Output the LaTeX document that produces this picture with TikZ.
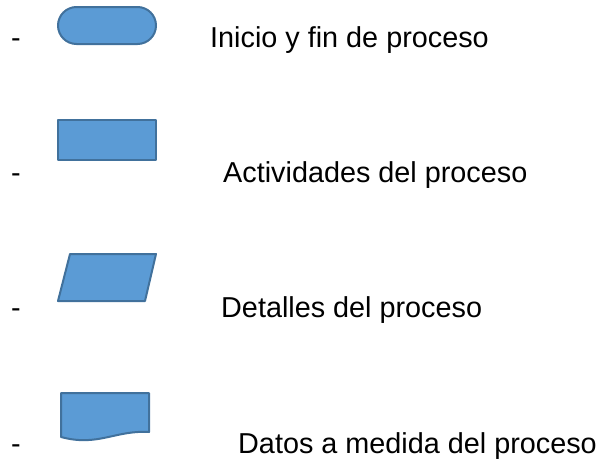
\documentclass[tikz,border=0pt]{standalone}
\usepackage{fontspec}
\setmainfont{Liberation Sans}
\definecolor{shapefill}{HTML}{5B9BD5}
\definecolor{shapeline}{HTML}{41719C}
\begin{document}
\begin{tikzpicture}[x=1pt,y=-1pt,
  symb/.style={fill=shapefill,draw=shapeline,line width=2pt,line join=round},
  lbl/.style={anchor=base west,inner sep=0pt,font=\fontsize{28.8}{34}\selectfont},
  dashlbl/.style={anchor=base west,inner sep=0pt,font=\fontsize{28.8}{34}\selectfont}]
\path[use as bounding box] (0,0) rectangle (606,461);
% terminator
\draw[symb,rounded corners=18.5pt] (58,7) rectangle (156,44);
\node[dashlbl] (d1) at (11,47) {-};
\node[lbl] (t1) at (210,47) {Inicio y fin de proceso};
% process
\draw[symb] (58,120) rectangle (156,160);
\node[dashlbl] (d2) at (11,182) {-};
\node[lbl] (t2) at (223,182) {Actividades del proceso};
% data
\draw[symb] (70,254) -- (156,254) -- (145,301) -- (58,301) -- cycle;
\node[dashlbl] (d3) at (11,317) {-};
\node[lbl] (t3) at (221,317) {Detalles del proceso};
% document
\draw[symb] (61,393) -- (149,393) -- (149,432) .. controls (115,430) and (98,447) .. (61,437) -- cycle;
\node[dashlbl] (d4) at (11,453) {-};
\node[lbl] (t4) at (238,453) {Datos a medida del proceso};
\end{tikzpicture}
\end{document}
